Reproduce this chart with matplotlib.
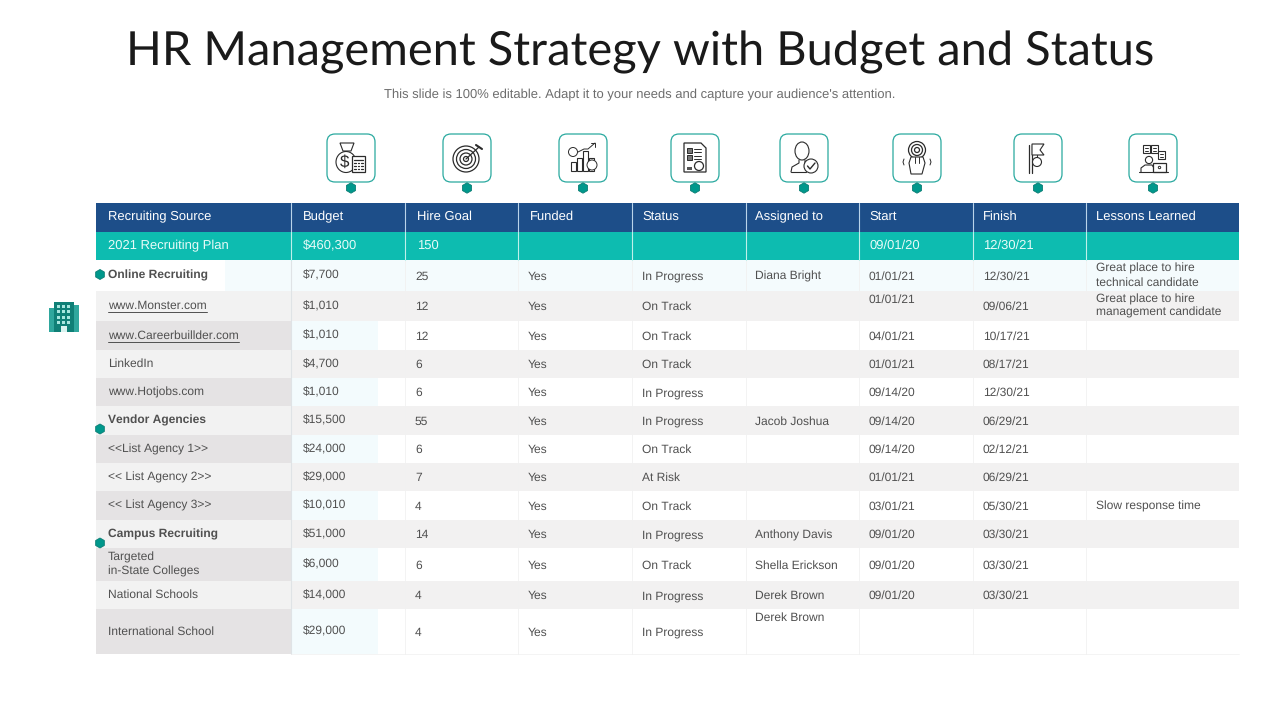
import matplotlib
matplotlib.use("Agg")
from matplotlib import pyplot as plt
from matplotlib.patches import Rectangle, FancyBboxPatch, RegularPolygon, Circle, Polygon, Ellipse

plt.rcParams['font.family'] = ['Liberation Sans', 'DejaVu Sans']
plt.rcParams['text.hinting'] = 'no_hinting'
plt.rcParams['text.hinting_factor'] = 1

TEAL = "#0dbcb0"
NAVY = "#1d4e89"
DARK = "#00988c"
TXT = "#505050"
INK = "#2b2b2b"

title = "HR Management Strategy with Budget and Status"
subtitle = "This slide is 100% editable. Adapt it to your needs and capture your audience's attention."

headers = ["Recruiting Source", "Budget", "Hire Goal", "Funded", "Status",
           "Assigned to", "Start", "Finish", "Lessons Learned"]
plan_row = ["2021 Recruiting Plan", "$460,300", "150", "", "", "", "09/01/20", "12/30/21", ""]

sources = ["Online Recruiting", "www.Monster.com", "www.Careerbuillder.com", "LinkedIn",
           "www.Hotjobs.com", "Vendor Agencies", "<<List Agency 1>>", "<< List Agency 2>>",
           "<< List Agency 3>>", "Campus Recruiting", "Targeted\nin-State Colleges",
           "National Schools", "International School"]
budget = ["$7,700", "$1,010", "$1,010", "$4,700", "$1,010", "$15,500", "$24,000", "$29,000",
          "$10,010", "$51,000", "$6,000", "$14,000", "$29,000"]
hire_goal = ["25", "12", "12", "6", "6", "55", "6", "7", "4", "14", "6", "4", "4"]
funded = ["Yes"] * 13
status = ["In Progress", "On Track", "On Track", "On Track", "In Progress", "In Progress",
          "On Track", "At Risk", "On Track", "In Progress", "On Track", "In Progress", "In Progress"]
assigned = ["Diana Bright", "", "", "", "", "Jacob Joshua", "", "", "", "Anthony Davis",
            "Shella Erickson", "Derek Brown", "Derek Brown"]
start = ["01/01/21", "01/01/21", "04/01/21", "01/01/21", "09/14/20", "09/14/20", "09/14/20",
         "01/01/21", "03/01/21", "09/01/20", "09/01/20", "09/01/20", ""]
finish = ["12/30/21", "09/06/21", "10/17/21", "08/17/21", "12/30/21", "06/29/21", "02/12/21",
          "06/29/21", "05/30/21", "03/30/21", "03/30/21", "03/30/21", ""]
lessons = ["Great place to hire\ntechnical candidate", "Great place to hire\nmanagement candidate",
           "", "", "", "", "", "", "Slow response time", "", "", "", ""]
bold_rows = ["Online Recruiting", "Vendor Agencies", "Campus Recruiting"]
link_rows = ["www.Monster.com", "www.Careerbuillder.com"]

col_edges = [96, 291, 405, 518, 632, 746, 859, 973, 1086, 1239]
row_edges = [260, 291, 321, 350, 378, 406, 435, 463, 491, 520, 548, 581, 609, 654]

fig = plt.figure(figsize=(12.8, 7.2), dpi=100)
ax = fig.add_axes([0, 0, 1, 1])
ax.set_xlim(0, 1280)
ax.set_ylim(720, 0)
ax.axis("off")


def rect(x0, y0, x1, y1, color, z=1):
    ax.add_patch(Rectangle((x0, y0), x1 - x0, y1 - y0, fc=color, ec="none", zorder=z))


def line(xs, ys, lw=1.0, color=INK, z=5):
    ax.plot(xs, ys, color=color, lw=lw, solid_capstyle="round", zorder=z)


def hexagon(x, y, r=5.2):
    ax.add_patch(RegularPolygon((x, y), 6, radius=r, fc=DARK, ec="#0b7d74", lw=0.6, zorder=6))


ax.text(640, 52, title, ha="center", va="center", fontsize=33.8, family="Lato", color="#1a1a1a")
ax.text(640, 95, subtitle, ha="center", va="center", fontsize=9.55, color="#6d6d6d")

# header and plan rows
rect(96, 203, 1239, 232, NAVY)
rect(96, 232, 1239, 260, TEAL)
for x in col_edges[1:-1]:
    line([x, x], [203, 232], lw=0.8, color="#b9d3ea", z=3)
    line([x, x], [232, 260], lw=0.8, color="#bff0ea", z=3)
head_x = [108, 303, 417, 530, 642, 755, 869, 983, 1096]
for x, label in zip(head_x, headers):
    ax.text(x, 217, label, va="center", fontsize=9.4, color="white", zorder=4)
for x, label in zip(head_x, plan_row):
    ax.text(x, 246, label, va="center", fontsize=9.4, color="#e8fbf8", zorder=4)

# body background
for i in range(len(sources)):
    y0, y1 = row_edges[i], row_edges[i + 1]
    if i == 0:
        rect(225, y0, 1239, y1, "#f4fbfd")
        rect(96, y0, 225, y1, "#ffffff")
    elif i in (1, 3, 5, 7, 9, 11):
        rect(291, y0, 1239, y1, "#f2f1f1")
        rect(96, y0, 291, y1, "#f2f2f2")
    else:
        rect(291, y0, 378, y1, "#f3fbfd")
        rect(96, y0, 291, y1, "#e5e3e4")
for x in col_edges[2:-1]:
    line([x, x], [260, 654], lw=0.6, color="#f1f1f1", z=2)
line([291, 291], [260, 654], lw=0.8, color="#dfe3e6", z=2)
line([291, 1239], [654, 654], lw=0.5, color="#f0f0f0", z=2)

# body text, each column sits a little differently in its row
columns = [budget, hire_goal, funded, status, assigned, start, finish, lessons]
col_x = [303, 415, 528, 642, 755, 869, 983, 1096]
for i, name in enumerate(sources):
    yc = (row_edges[i] + row_edges[i + 1]) / 2
    weight = "bold" if name in bold_rows else "normal"
    t = ax.text(108, yc, name, va="center", fontsize=8.5 if weight == "normal" else 8.65,
                color=TXT, weight=weight, zorder=4, linespacing=1.3)
    if name in link_rows:
        fig.canvas.draw()
        bb = t.get_window_extent()
        line([108, 108 + bb.width], [yc + 6, yc + 6], lw=0.7, color=TXT, z=4)
    for j, col in enumerate(columns):
        yt = yc + (0 if j == 0 else 1)
        val = col[i]
        if col is start and i == 1:
            yt = 299.5
        if col is assigned and i == 12:
            yt = 618
        if col is lessons and i < 2:
            yt = yc
        ax.text(col_x[j], yt, val, va="center", fontsize=8.5, color=TXT, zorder=4, linespacing=1.3)

# row markers
hexagon(100, 274.5, 5)
hexagon(100, 429, 5)
hexagon(100, 543, 5)

# icon boxes
icon_x = [351, 467, 583, 695, 804, 917, 1038, 1153]
for x in icon_x:
    ax.add_patch(FancyBboxPatch((x - 24, 134), 48, 48, boxstyle="round,pad=0,rounding_size=8",
                                fc="white", ec="#29a99f", lw=0.9, zorder=3))
    hexagon(x, 188)


def icon_money(x, y):
    ax.add_patch(Ellipse((x - 5, y + 4), 20, 21, fc="none", ec=INK, lw=0.8, zorder=5))
    ax.text(x - 6, y + 4, "$", ha="center", va="center", fontsize=12, color=INK, zorder=6)
    ax.add_patch(Polygon([(x - 11, y - 15), (x + 3, y - 15), (x, y - 7), (x - 8, y - 7)], fc="white", ec=INK, lw=0.8, zorder=5))
    ax.add_patch(Rectangle((x + 1, y - 2), 13, 16, fc="white", ec=INK, lw=0.9, zorder=6))
    for dx in (4, 7.5, 11):
        for dy in (5, 8, 11):
            line([x + dx - 0.8, x + dx + 0.8], [y + dy, y + dy], lw=0.9, z=7)
    line([x + 3, x + 12], [y + 1.5, y + 1.5], lw=0.9, z=7)


def icon_target(x, y):
    for r in (13, 9.5, 6, 2.5):
        ax.add_patch(Circle((x - 1, y + 1), r, fc="none", ec=INK, lw=0.9, zorder=5))
    line([x - 1, x + 12], [y + 1, y - 11], lw=0.9)
    line([x + 9, x + 15], [y - 13, y - 9], lw=1.5)


def icon_chart(x, y):
    for dx, h in ((-12, 9), (-6, 13), (0, 20), (6, 13)):
        ax.add_patch(Rectangle((x + dx, y + 13 - h), 4.5, h, fc="white", ec=INK, lw=0.8, zorder=5))
    ax.add_patch(Circle((x - 10, y - 6), 4.5, fc="white", ec=INK, lw=0.7, zorder=6))
    ax.add_patch(Circle((x + 9, y + 7), 5, fc="white", ec=INK, lw=0.7, zorder=6))
    line([x - 5, x + 1, x + 5, x + 12], [y - 6, y - 9, y - 9, y - 15], lw=0.7)
    line([x + 8, x + 12, x + 12], [y - 15, y - 15, y - 11], lw=0.7)


def icon_doc(x, y):
    ax.add_patch(Polygon([(x - 11, y - 15), (x + 6, y - 15), (x + 11, y - 10), (x + 11, y + 14), (x - 11, y + 14)],
                         fc="white", ec=INK, lw=0.9, zorder=5))
    for dy in (-10, -3):
        ax.add_patch(Rectangle((x - 8, y + dy), 4.5, 4.5, fc="#777777", ec=INK, lw=0.7, zorder=6))
        line([x - 1, x + 6], [y + dy + 1, y + dy + 1], lw=0.7, z=6)
        line([x - 1, x + 6], [y + dy + 3.5, y + dy + 3.5], lw=0.7, z=6)
    ax.add_patch(Circle((x + 4, y + 8), 4.5, fc="white", ec=INK, lw=0.9, zorder=6))
    rect(x - 8, y + 9, x - 3, y + 12, "#555555", z=6)


def icon_person(x, y):
    ax.add_patch(Ellipse((x - 2, y - 7), 14, 18, fc="none", ec=INK, lw=0.8, zorder=5))
    line([x - 13, x - 12, x - 5, x - 5], [y + 14, y + 9, y + 5, y + 2], lw=0.8)
    line([x - 13, x + 2], [y + 14, y + 14], lw=0.8)
    line([x + 1, x + 1, x + 5], [y + 2, y + 5, y + 6], lw=0.8)
    ax.add_patch(Circle((x + 7, y + 8), 7, fc="white", ec=INK, lw=0.8, zorder=6))
    line([x + 3.5, x + 6, x + 11], [y + 8, y + 11, y + 5], lw=1.0, z=7)


def icon_touch(x, y):
    for r in (8.5, 5.5, 2.5):
        ax.add_patch(Circle((x, y - 8), r, fc="none", ec=INK, lw=0.9, zorder=5))
    ax.add_patch(Polygon([(x - 6, y + 16), (x - 8, y + 5), (x - 6, y - 1), (x + 6, y - 1), (x + 8, y + 5), (x + 5, y + 16)],
                         fc="white", ec=INK, lw=0.8, zorder=6))
    for dx in (-2.5, 1.5):
        line([x + dx, x + dx], [y - 1, y + 5], lw=0.7, z=7)
    line([x - 13, x - 14, x - 13], [y + 1, y + 4, y + 7], lw=0.7)
    line([x + 13, x + 14, x + 13], [y + 1, y + 4, y + 7], lw=0.7)


def icon_flag(x, y):
    line([x - 9, x - 9], [y - 13, y + 15], lw=0.9)
    line([x - 6, x - 6], [y - 13, y + 15], lw=0.9)
    ax.add_patch(Polygon([(x - 6, y - 14), (x + 6, y - 14), (x + 2, y - 8), (x + 6, y - 3), (x - 6, y - 3)],
                         fc="white", ec=INK, lw=0.8, zorder=5))
    line([x - 1, x - 1], [y - 3, y], lw=0.8)
    ax.add_patch(Circle((x - 1, y + 4), 4.5, fc="white", ec=INK, lw=0.8, zorder=6))


def icon_reader(x, y):
    for dx, dy in ((-10, -13), (-2, -13), (5, -7)):
        ax.add_patch(Rectangle((x + dx, y + dy), 6.5, 8, fc="white", ec=INK, lw=0.8, zorder=5))
        line([x + dx + 1.5, x + dx + 5], [y + dy + 3, y + dy + 3], lw=0.7, z=6)
        line([x + dx + 1.5, x + dx + 5], [y + dy + 5.5, y + dy + 5.5], lw=0.7, z=6)
    ax.add_patch(Circle((x - 4, y + 2), 3.6, fc="white", ec=INK, lw=0.8, zorder=5))
    line([x - 12, x - 12, x - 8, x - 1, x + 1], [y + 14, y + 10, y + 7, y + 7, y + 10], lw=0.8)
    ax.add_patch(Rectangle((x, y + 5), 13, 9, fc="white", ec=INK, lw=0.9, zorder=6))
    ax.add_patch(Circle((x + 6.5, y + 9.5), 1.2, fc="white", ec=INK, lw=0.7, zorder=7))
    line([x - 14, x + 15], [y + 14, y + 14], lw=0.8, z=7)


drawers = [icon_money, icon_target, icon_chart, icon_doc, icon_person, icon_touch, icon_flag, icon_reader]
for x, draw in zip(icon_x, drawers):
    draw(x, 158)

# building icon to the left of the table
bx, by = 64, 317
rect(bx - 15, by - 9, bx - 7, by + 15, "#2fa79d", z=3)
rect(bx + 7, by - 12, bx + 15, by + 15, "#2fa79d", z=3)
rect(bx - 10, by - 15, bx + 10, by + 15, "#0f7f76", z=4)
for r in range(4):
    for c in range(3):
        rect(bx - 7 + c * 5, by - 12 + r * 5.4, bx - 4 + c * 5, by - 9 + r * 5.4, "#a8e6df", z=5)
rect(bx - 3, by + 9, bx + 3, by + 15, "#d8f3ef", z=5)

fig.savefig("out.png", dpi=100)
